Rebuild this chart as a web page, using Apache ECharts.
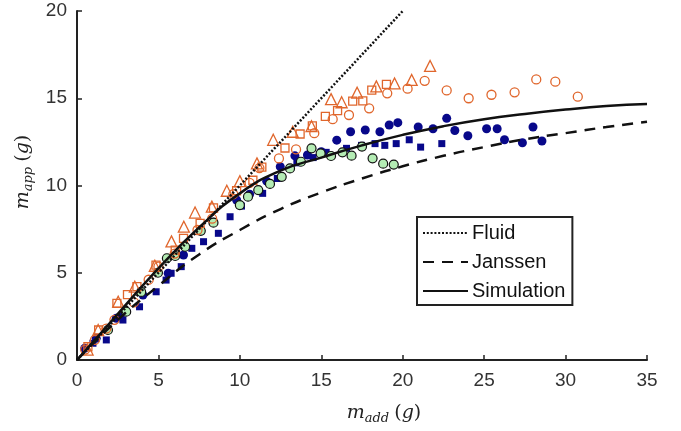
<!DOCTYPE html>
<html>
<head>
<meta charset="utf-8">
<script src="https://cdn.jsdelivr.net/npm/echarts@6/dist/echarts.min.js"></script>
<style>html,body{margin:0;padding:0;background:#fff}#c{width:681px;height:431px}</style>
</head>
<body>
<div id="c"></div>
<script>
// ---- data ----
var fluidLine = [[0,0],[20,20]];
var janssenLine = [[0,0],[2.5,2.3],[5,4.25],[7.5,6.05],[10,7.45],[12.5,8.65],[15,9.6],[17.5,10.4],[20,11.1],[22.5,11.7],[25,12.2],[27.5,12.65],[30,13.0],[32.5,13.35],[35,13.65]];
var simulationLine = [[0,0],[2,2.1],[5,5.25],[7.5,7.6],[10,9.55],[12.5,10.85],[15,11.6],[17.5,12.3],[20,12.9],[22.5,13.4],[25,13.8],[27.5,14.1],[30,14.35],[32.5,14.55],[35,14.67]];

var orangeCircles = [[0.5,0.6],[1.1,1.15],[1.8,1.8],[2.3,2.3],[3.5,3.3],[4.4,4.6],[5.0,5.35],[6.0,6.1],[7.4,7.45],[8.3,8.1],[9.6,9.5],[10.6,10.15],[11.2,11.0],[12.4,11.55],[13.45,12.07],[14.57,13.0],[15.7,13.8],[16.7,14.04],[17.94,14.42],[19.05,15.28],[20.3,15.55],[21.35,16.0],[22.7,15.45],[24.05,15.0],[25.45,15.2],[26.87,15.34],[28.2,16.08],[29.37,15.95],[30.75,15.09]];
var orangeTriangles = [[0.65,0.6],[1.3,1.72],[2.53,3.34],[3.55,4.2],[4.78,5.4],[5.8,6.8],[6.56,7.64],[7.25,8.45],[8.28,8.79],[9.2,9.7],[10.0,10.25],[11.05,11.27],[12.05,12.62],[13.25,13.08],[14.4,13.4],[15.6,14.95],[16.25,14.77],[17.2,15.32],[18.38,15.68],[19.5,15.85],[20.55,16.05],[21.68,16.85]];
var orangeSquares = [[0.67,0.76],[1.33,1.72],[2.45,3.25],[3.1,3.75],[3.68,4.2],[4.85,5.44],[6.03,6.3],[6.54,6.97],[7.56,7.83],[8.38,8.72],[9.8,9.7],[10.8,10.3],[11.35,11.05],[12.77,12.15],[13.7,12.95],[14.45,13.42],[15.25,13.96],[16.0,14.29],[16.93,14.84],[17.55,14.85],[18.1,15.47],[19.0,15.8]];
var navyCircles = [[0.47,0.67],[1.18,1.24],[2.41,2.39],[2.65,2.48],[4.05,3.72],[5.6,4.97],[6.54,6.02],[8.38,7.9],[9.8,9.17],[10.6,9.5],[11.65,10.25],[12.48,11.08],[13.38,11.7],[14.15,11.75],[15.0,11.94],[15.95,12.6],[16.8,13.08],[17.7,13.18],[18.6,13.08],[19.17,13.47],[19.7,13.6],[20.95,13.35],[21.86,13.25],[22.7,13.85],[23.2,13.15],[24.0,12.85],[25.15,13.25],[25.8,13.25],[26.25,12.62],[27.35,12.45],[28.0,13.35],[28.55,12.55]];
var navySquares = [[0.98,0.96],[1.8,1.15],[2.82,2.29],[3.84,3.05],[4.86,3.91],[5.47,4.58],[5.78,4.97],[6.4,5.35],[7.05,6.4],[7.77,6.78],[8.68,7.26],[9.4,8.21],[10.1,8.82],[11.4,9.55],[12.3,10.4],[13.5,11.3],[14.5,11.6],[15.3,11.9],[16.55,12.13],[17.47,12.3],[18.3,12.4],[18.9,12.3],[19.6,12.4],[20.4,12.62],[21.1,12.2],[22.4,12.4]];
var greenCircles = [[1.9,1.72],[3.02,2.77],[3.94,3.9],[4.97,5.0],[5.52,5.83],[6.03,5.96],[6.64,6.49],[7.6,7.4],[8.38,7.87],[10.0,8.88],[10.5,9.36],[11.13,9.74],[11.85,10.09],[12.57,10.5],[13.08,10.98],[13.75,11.36],[14.4,12.13],[14.96,11.84],[15.6,11.69],[16.3,11.9],[16.86,11.71],[17.5,12.23],[18.15,11.56],[18.8,11.25],[19.45,11.2]];

var xMin = 0, xMax = 35, xStep = 5;
var yMin = 0, yMax = 20, yStep = 5;
var legendNames = ['Fluid', 'Janssen', 'Simulation'];

// ---- chart ----
var ORANGE = '#E0662C', NAVY = '#08088A', GREEN = '#B4ECB4', AXIS = '#222';
var serif = 'DejaVu Serif';
function richName(sub){
  return '{m|m}{s|' + sub + '}{sp| }{p|(}{g|g}{p|)}';
}
var nameRich = {
  m: {fontFamily: serif, fontStyle: 'italic', fontSize: 19, color: '#222'},
  s: {fontFamily: serif, fontStyle: 'italic', fontSize: 13, color: '#222', padding: [11, 0, 0, 0]},
  sp: {fontFamily: serif, fontSize: 16},
  p: {fontFamily: serif, fontSize: 19, color: '#222'},
  g: {fontFamily: serif, fontStyle: 'italic', fontSize: 19, color: '#222'}
};

function scatter(data, symbol, size, color, filled, z){
  return {
    type: 'scatter', data: data, symbol: symbol, symbolSize: size, z: z,
    itemStyle: filled ? {color: color, borderColor: color, borderWidth: 0, opacity: 1}
                      : {color: 'rgba(0,0,0,0)', borderColor: color, borderWidth: 1.3, opacity: 1},
    emphasis: {disabled: true}, silent: true
  };
}

var chart = echarts.init(document.getElementById('c'), null, {renderer: 'canvas'});
chart.setOption({
  animation: false,
  backgroundColor: '#fff',
  grid: {left: 77, right: 34, top: 11, bottom: 71, containLabel: false},
  xAxis: {
    type: 'value', min: xMin, max: xMax, interval: xStep,
    axisLine: {lineStyle: {color: AXIS, width: 2}},
    axisTick: {inside: true, length: 5, lineStyle: {color: AXIS, width: 1.5}},
    axisLabel: {color: '#333', fontSize: 19, margin: 11, fontFamily: 'Liberation Sans'},
    splitLine: {show: false},
    name: richName('add'), nameLocation: 'middle', nameGap: 41,
    nameTextStyle: {rich: nameRich, padding: [0, 0, 0, 44]}
  },
  yAxis: {
    type: 'value', min: yMin, max: yMax, interval: yStep,
    axisLine: {lineStyle: {color: AXIS, width: 2}},
    axisTick: {inside: true, length: 5, lineStyle: {color: AXIS, width: 1.5}},
    axisLabel: {color: '#333', fontSize: 19, margin: 10, fontFamily: 'Liberation Sans', padding: [0, 0, 5, 0]},
    splitLine: {show: false},
    name: richName('app'), nameLocation: 'middle', nameGap: 40, nameRotate: 90,
    nameTextStyle: {rich: nameRich, padding: [0, 0, 0, 27]}
  },
  legend: {
    data: legendNames, orient: 'vertical', left: 417, top: 217,
    padding: [6, 7, 4, 5], itemWidth: 45, itemHeight: 14, itemGap: 9,
    borderColor: '#222', borderWidth: 2, backgroundColor: '#fff',
    itemStyle: {opacity: 0},
    textStyle: {fontSize: 20, color: '#111', fontFamily: 'Liberation Sans', padding: [0, 0, 0, -1]},
    selectedMode: false
  },
  series: [
    scatter(navySquares, 'rect', 7, NAVY, true, 2),
    scatter(navyCircles, 'circle', 9, NAVY, true, 2),
    {
      type: 'scatter', data: greenCircles, symbol: 'circle', symbolSize: 9, z: 3,
      itemStyle: {color: GREEN, borderColor: '#111', borderWidth: 1.2, opacity: 1}, silent: true
    },
    scatter(orangeSquares, 'rect', 8, ORANGE, false, 4),
    scatter(orangeTriangles, 'triangle', 11, ORANGE, false, 4),
    scatter(orangeCircles, 'circle', 9, ORANGE, false, 4),
    {
      name: legendNames[0], type: 'line', data: fluidLine, symbol: 'none', z: 5,
      lineStyle: {color: '#111', width: 2.5, type: [2, 1.8]}, itemStyle: {color: '#111'}
    },
    {
      name: legendNames[1], type: 'line', data: janssenLine, symbol: 'none', smooth: true, z: 5,
      lineStyle: {color: '#111', width: 2.5, type: [11, 8]}, itemStyle: {color: '#111'}
    },
    {
      name: legendNames[2], type: 'line', data: simulationLine, symbol: 'none', smooth: true, z: 5,
      lineStyle: {color: '#111', width: 2.5, type: 'solid'}, itemStyle: {color: '#111'}
    }
  ]
});
</script>
</body>
</html>
